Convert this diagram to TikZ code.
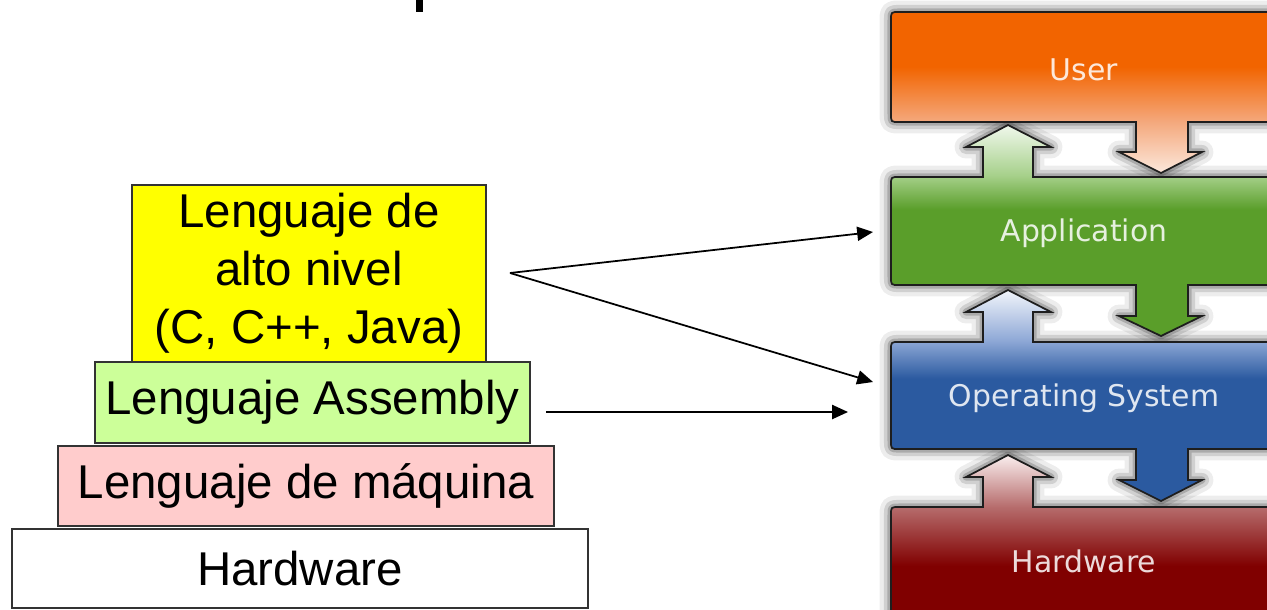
\documentclass[tikz,border=0pt]{standalone}
\usepackage{fontspec}
\setmainfont{Liberation Sans}
\newfontfamily\guifont{DejaVu Sans}
\usetikzlibrary{arrows.meta}

% colours of the language pyramid
\definecolor{highlevel}{HTML}{FFFF00}
\definecolor{asmlevel}{HTML}{CCFF99}
\definecolor{machlevel}{HTML}{FFCCCC}
\definecolor{edge}{HTML}{333333}
\definecolor{outline}{HTML}{1E1E1E}

% colours of the layer stack
\definecolor{uTop}{HTML}{F26400}
\definecolor{uPeach}{HTML}{F4A87C}
\definecolor{uPale}{HTML}{FCE8DC}
\definecolor{aMain}{HTML}{5A9E2A}
\definecolor{aLight}{HTML}{A6D08A}
\definecolor{aPale}{HTML}{F0F8EC}
\definecolor{oMain}{HTML}{2B5AA0}
\definecolor{oLight}{HTML}{8EA8D6}
\definecolor{oPale}{HTML}{F2F5FB}
\definecolor{hMain}{HTML}{800000}
\definecolor{hLight}{HTML}{B66C6C}
\definecolor{hPale}{HTML}{FAEEEE}

\pgfdeclareverticalshading{userfill}{100bp}{color(0bp)=(uPale); color(25bp)=(uPale); color(41bp)=(uPeach); color(58bp)=(uTop); color(100bp)=(uTop)}
\pgfdeclareverticalshading{appfill}{100bp}{color(0bp)=(aMain); color(55bp)=(aMain); color(63bp)=(aLight); color(75bp)=(aPale); color(100bp)=(aPale)}
\pgfdeclareverticalshading{osfill}{100bp}{color(0bp)=(oMain); color(54bp)=(oMain); color(63bp)=(oLight); color(75bp)=(oPale); color(100bp)=(oPale)}
\pgfdeclareverticalshading{hwfill}{100bp}{color(0bp)=(hMain); color(41bp)=(hMain); color(59bp)=(hLight); color(75bp)=(hPale); color(100bp)=(hPale)}

% outlines of the four layers, box plus the arrows it carries
\newcommand\userlayer{(899,12) -- (1290,12) -- (1290,122) -- (1188,122) -- (1188,152) -- (1202,152) -- (1161,173) -- (1119,152) -- (1136,152) -- (1136,122) -- (899,122) .. controls (891,122) .. (891,114) -- (891,20) .. controls (891,12) .. (899,12) -- cycle}
\newcommand\applayer{(899,177) -- (983,177) -- (983,147) -- (966,147) -- (1008,125) -- (1051,147) -- (1033,147) -- (1033,177) -- (1290,177) -- (1290,285) -- (1188,285) -- (1188,316) -- (1202,316) -- (1161,336) -- (1119,316) -- (1136,316) -- (1136,285) -- (899,285) .. controls (891,285) .. (891,277) -- (891,185) .. controls (891,177) .. (899,177) -- cycle}
\newcommand\oslayer{(899,342) -- (983,342) -- (983,312) -- (966,312) -- (1008,290) -- (1051,312) -- (1033,312) -- (1033,342) -- (1290,342) -- (1290,449) -- (1188,449) -- (1188,480) -- (1202,480) -- (1161,501) -- (1119,480) -- (1136,480) -- (1136,449) -- (899,449) .. controls (891,449) .. (891,441) -- (891,350) .. controls (891,342) .. (899,342) -- cycle}
\newcommand\hwlayer{(899,507) -- (983,507) -- (983,477) -- (966,477) -- (1008,455) -- (1051,477) -- (1033,477) -- (1033,507) -- (1290,507) -- (1290,618) -- (891,618) -- (891,515) .. controls (891,507) .. (899,507) -- cycle}

\begin{document}
\begin{tikzpicture}[x=0.02cm, y=-0.02cm,
  langbox/.style={draw=edge, line width=0.8pt, inner sep=0pt, outer sep=0pt,
    align=center, font=\fontsize{27}{33}\selectfont},
  glow/.style={preaction={draw=black, draw opacity=.07, line width=13pt, line join=round},
    preaction={draw=black, draw opacity=.12, line width=8pt, line join=round},
    preaction={draw=black, draw opacity=.18, line width=4pt, line join=round}},
  layer/.style={draw=outline, line width=1pt, shade},
  layertext/.style={text=white, text opacity=.85, font=\guifont\fontsize{17}{20}\selectfont},
  link/.style={-{Triangle[length=9pt,width=8pt]}, line width=1pt}]
\useasboundingbox (0,0) rectangle (1267,609);
\clip (0,0) rectangle (1267,609);

% cut off piece of a heading
\fill (416,0) rectangle (423,12);

% language levels
\node (high) [langbox, fill=highlevel, minimum width=7.08cm, minimum height=3.54cm] at (309,273.5)
  {Lenguaje de\\alto nivel\\(C, C++, Java)};
\node (asm) [langbox, fill=asmlevel, minimum width=8.7cm, minimum height=1.62cm] at (312.5,402.5) {Lenguaje Assembly};
\node (mach) [langbox, fill=machlevel, minimum width=9.92cm, minimum height=1.6cm] at (306,486) {Lenguaje de m\'aquina};
\node (hwbase) [langbox, fill=white, minimum width=11.52cm, minimum height=1.58cm] at (300,568.5) {Hardware};

% layer stack, shadows first
\path[glow] \userlayer;
\path[glow] \applayer;
\path[glow] \oslayer;
\path[glow] \hwlayer;
\path[layer, shading=userfill] \userlayer;
\path[layer, shading=appfill] \applayer;
\path[layer, shading=osfill] \oslayer;
\path[layer, shading=hwfill] \hwlayer;

\node (user) [layertext] at (1084,70) {User};
\node (app) [layertext] at (1084,233) {Application};
\node (os) [layertext] at (1084,398) {Operating System};
\node (hw) [layertext] at (1084,561) {Hardware};

% connectors
\coordinate (fork) at (510,273);
\coordinate (appin) at (873,232);
\coordinate (osin) at (873,382);
\coordinate (asmout) at (546,412);
\coordinate (osside) at (848,412);
\draw[link] (fork) -- (appin);
\draw[link] (fork) -- (osin);
\draw[link] (asmout) -- (osside);
\end{tikzpicture}
\end{document}
